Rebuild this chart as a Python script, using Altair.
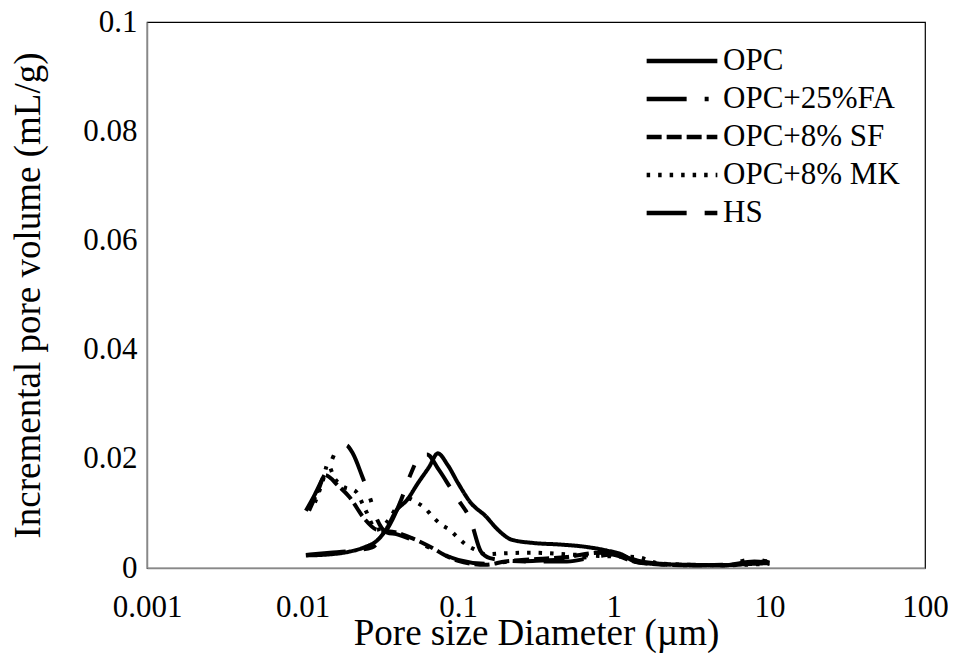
import altair as alt
import pandas as pd

series_names = ["OPC", "OPC+25%FA", "OPC+8% SF", "OPC+8% MK", "HS"]

opc_x = [0.0105, 0.015, 0.02, 0.025, 0.03, 0.034, 0.04, 0.047, 0.055, 0.065, 0.074, 0.085, 0.1, 0.12, 0.15, 0.18, 0.22, 0.3, 0.45, 0.65, 0.9, 1.1, 1.4, 2, 3, 5, 7, 10]
opc_y = [0.0023, 0.0025, 0.003, 0.0038, 0.005, 0.0068, 0.0105, 0.0125, 0.0155, 0.0185, 0.021, 0.019, 0.0155, 0.012, 0.0095, 0.007, 0.0052, 0.0046, 0.0043, 0.0039, 0.0032, 0.0026, 0.0011, 0.0007, 0.0006, 0.0005, 0.0007, 0.0009]

fa_x = [0.0105, 0.012, 0.0135, 0.015, 0.0165, 0.019, 0.021, 0.024, 0.027, 0.03, 0.035, 0.04, 0.05, 0.06, 0.07, 0.085, 0.1, 0.15, 0.2, 0.3, 0.5, 0.8, 1, 1.5, 2, 3, 5, 8, 10]
fa_y = [0.0105, 0.0135, 0.0165, 0.019, 0.0215, 0.0225, 0.021, 0.017, 0.013, 0.009, 0.0065, 0.0062, 0.0052, 0.0042, 0.0033, 0.0022, 0.0015, 0.0008, 0.0011, 0.0013, 0.0016, 0.0022, 0.0025, 0.0011, 0.0007, 0.0005, 0.0006, 0.0016, 0.001]

sf_x = [0.011, 0.0125, 0.014, 0.017, 0.02, 0.025, 0.03, 0.04, 0.05, 0.06, 0.07, 0.08, 0.1, 0.12, 0.15, 0.2, 0.3, 0.5, 0.8, 1, 1.5, 3, 5, 8, 10]
sf_y = [0.0105, 0.014, 0.017, 0.015, 0.013, 0.009, 0.007, 0.0065, 0.0055, 0.0045, 0.0035, 0.0025, 0.0013, 0.0008, 0.0006, 0.0012, 0.0016, 0.002, 0.0028, 0.0024, 0.0009, 0.0005, 0.0005, 0.001, 0.0013]

mk_x = [0.012, 0.0135, 0.0145, 0.016, 0.018, 0.022, 0.025, 0.03, 0.035, 0.04, 0.047, 0.054, 0.061, 0.069, 0.078, 0.088, 0.1, 0.113, 0.13, 0.15, 0.2, 0.3, 0.5, 0.8, 1.4, 2, 5, 10]
mk_y = [0.012, 0.016, 0.019, 0.0165, 0.015, 0.014, 0.011, 0.007, 0.0085, 0.011, 0.0128, 0.012, 0.011, 0.0093, 0.0079, 0.007, 0.0055, 0.0042, 0.0033, 0.0025, 0.0027, 0.0028, 0.0025, 0.0022, 0.002, 0.0008, 0.0005, 0.0008]

hs_x = [0.0105, 0.015, 0.02, 0.028, 0.033, 0.038, 0.043, 0.05, 0.057, 0.063, 0.075, 0.09, 0.1, 0.12, 0.14, 0.16, 0.2, 0.3, 0.5, 0.8, 1, 1.5, 2, 3, 5, 8, 10]
hs_y = [0.0024, 0.0028, 0.0031, 0.0038, 0.006, 0.009, 0.0125, 0.0175, 0.0205, 0.0208, 0.018, 0.0145, 0.0125, 0.0088, 0.003, 0.0018, 0.0014, 0.0012, 0.0012, 0.0022, 0.0025, 0.0012, 0.0008, 0.0005, 0.0005, 0.0012, 0.0008]

x_ticks = [0.001, 0.01, 0.1, 1, 10, 100]
y_ticks = [0, 0.02, 0.04, 0.06, 0.08, 0.1]

xs = [opc_x, fa_x, sf_x, mk_x, hs_x]
ys = [opc_y, fa_y, sf_y, mk_y, hs_y]
rows = []
for name, xv, yv in zip(series_names, xs, ys):
    for i, (a, b) in enumerate(zip(xv, yv)):
        rows.append({"series": name, "x": a, "y": b, "order": i})
df = pd.DataFrame(rows)

dashes = [[1, 0], [40, 18, 4, 18], [15, 5], [3.5, 8], [40, 18, 13, 18]]

font = "Liberation Serif"

chart = alt.Chart(df).mark_line(
    strokeWidth=4, interpolate="monotone", color="black"
).encode(
    x=alt.X("x:Q", scale=alt.Scale(type="log", domain=[0.001, 100]),
            axis=alt.Axis(values=x_ticks, format="~g", title="Pore size Diameter (µm)",
                          grid=False, ticks=False, labelPadding=24, titlePadding=-7,
                          domainColor="#888888", domainWidth=1.5,
                          labelFont=font, labelFontSize=31, labelColor="black",
                          titleFont=font, titleFontSize=37, titleFontWeight="normal",
                          titleColor="black", labelFlush=False)),
    y=alt.Y("y:Q", scale=alt.Scale(domain=[0, 0.1]),
            axis=alt.Axis(values=y_ticks, format="~g", title="Incremental pore volume (mL/g)",
                          grid=False, ticks=False, labelPadding=10, titlePadding=35,
                          domainColor="#888888", domainWidth=1.5,
                          labelFont=font, labelFontSize=31, labelColor="black",
                          titleFont=font, titleFontSize=37, titleFontWeight="normal",
                          titleColor="black")),
    strokeDash=alt.StrokeDash("series:N", sort=series_names,
                              scale=alt.Scale(domain=series_names, range=dashes),
                              legend=alt.Legend(title=None, orient="none", legendX=497, legendY=20,
                                                symbolType="stroke", symbolSize=5000,
                                                symbolStrokeWidth=4.5, symbolStrokeColor="black",
                                                labelFont=font, labelFontSize=31, labelColor="black",
                                                labelLimit=400, clipHeight=38,
                                                rowPadding=0, labelOffset=3, symbolOffset=0)),
    order="order:Q",
).properties(
    width=778, height=546,
    padding={"left": 139, "top": 14, "right": 23, "bottom": 85},
    autosize=alt.AutoSizeParams(type="none"),
).configure_view(stroke="black", strokeWidth=1.2)

chart.save("out.html", embed_options={"renderer": "svg", "actions": False})
